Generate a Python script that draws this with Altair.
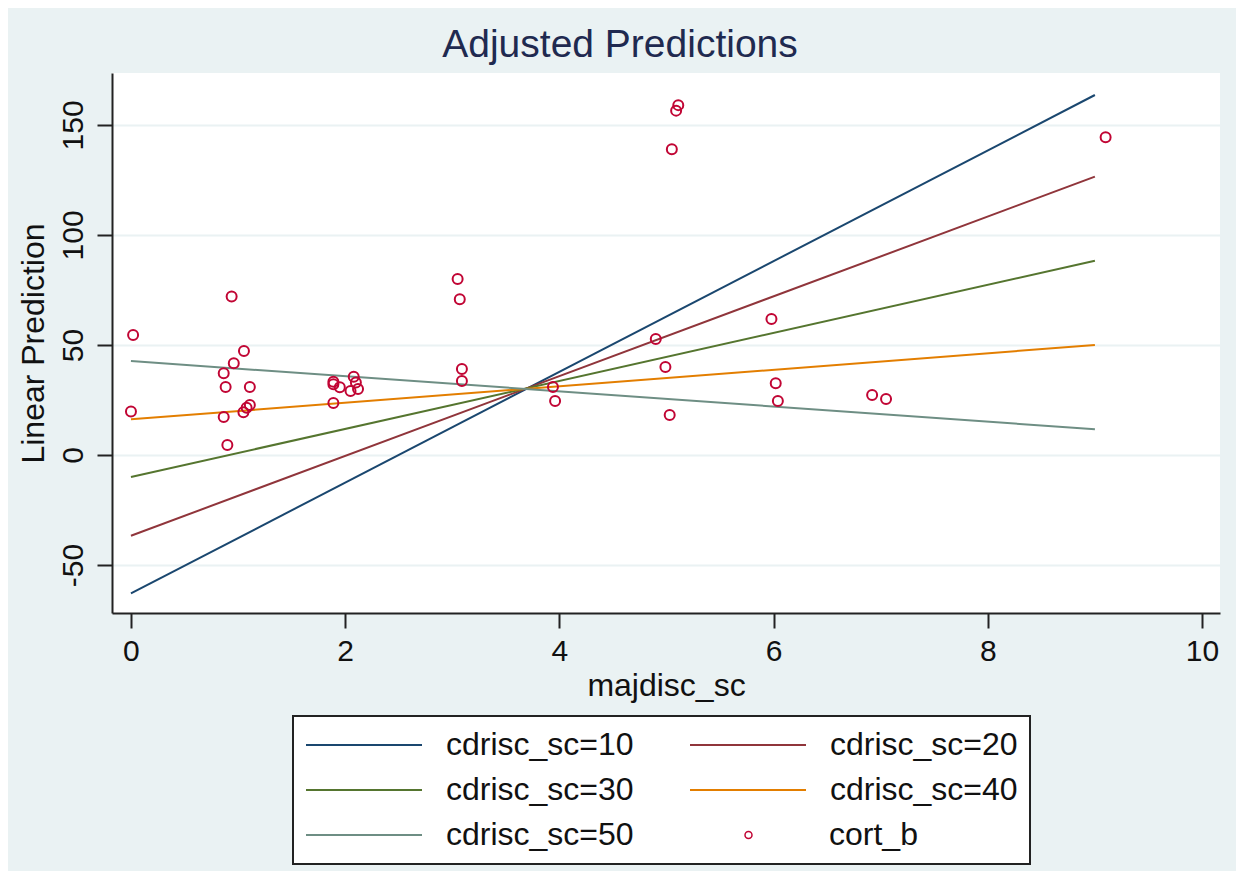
import altair as alt
import pandas as pd

# ---- data ----
cdrisc_levels = [10, 20, 30, 40, 50]
majdisc_grid = [0, 9]
pred_at_0 = [-62.9, -36.7, -10.0, 16.2, 42.7]
pred_at_9 = [163.6, 126.5, 88.3, 50.0, 11.7]
line_colors = ["#1a476f", "#90353b", "#55752f", "#e37e00", "#6e8e84"]

majdisc_obs = [0.94, 0.02, 1.055, 0.96, 0.866, 0.884, 1.11, 0.0, 0.866, 1.05,
               1.08, 1.11, 0.90, 1.89, 1.89, 1.95, 2.08, 2.10, 2.05, 2.12,
               1.89, 3.05, 3.07, 3.09, 3.09, 3.94, 3.96, 4.90, 4.99, 5.03,
               5.11, 5.09, 5.05, 5.98, 6.02, 6.04, 6.92, 7.05, 9.10]
cort_obs = [72.0, 54.5, 47.3, 41.7, 37.1, 30.9, 30.9, 19.8, 17.3, 19.4,
            21.5, 22.7, 4.5, 33.3, 32.1, 30.8, 35.6, 32.9, 29.1, 30.0,
            23.6, 80.0, 70.8, 39.1, 33.6, 30.9, 24.5, 52.7, 40.0, 18.2,
            159.0, 156.5, 139.0, 61.8, 32.6, 24.5, 27.3, 25.5, 144.4]

series_labels = [f"cdrisc_sc={v}" for v in cdrisc_levels]

rows = []
for lab, a, b in zip(series_labels, pred_at_0, pred_at_9):
    rows.append({"majdisc_sc": majdisc_grid[0], "pred": a, "series": lab})
    rows.append({"majdisc_sc": majdisc_grid[1], "pred": b, "series": lab})
lines_df = pd.DataFrame(rows)
pts_df = pd.DataFrame({"majdisc_sc": majdisc_obs, "cort_b": cort_obs,
                       "kind": ["cort_b"] * len(cort_obs)})

FONT = "Liberation Sans"
INK = "#111111"
AXC = "#222222"

x_scale = alt.Scale(domain=[-0.177, 10.168], nice=False, zero=False)
y_scale = alt.Scale(domain=[-71.8, 173.6], nice=False, zero=False)

x_axis = alt.Axis(title="majdisc_sc", values=[0, 2, 4, 6, 8, 10], grid=False,
                  tickSize=15, tickWidth=2, tickColor=AXC, domainColor=AXC,
                  domainWidth=2, labelFontSize=30, labelFont=FONT,
                  labelColor=INK, labelPadding=8, titleFontSize=32,
                  titleFont=FONT, titleFontWeight="normal", titleColor=INK,
                  titlePadding=4, labelOverlap=False)
y_axis = alt.Axis(title="Linear Prediction", values=[-50, 0, 50, 100, 150],
                  grid=True, gridColor="#eaf2f3", gridWidth=2,
                  tickSize=15, tickWidth=2, tickColor=AXC, domainColor=AXC,
                  domainWidth=2, labelFontSize=30, labelFont=FONT,
                  labelColor=INK, labelAngle=270, labelAlign="center",
                  labelBaseline="alphabetic", labelPadding=15,
                  labelExpr="toString(datum.value)",
                  titleFontSize=32, titleFont=FONT, titleFontWeight="normal",
                  titleColor=INK, titlePadding=8, labelOverlap=False)

lines = alt.Chart(lines_df).mark_line(strokeWidth=2).encode(
    x=alt.X("majdisc_sc:Q", scale=x_scale, axis=x_axis),
    y=alt.Y("pred:Q", scale=y_scale, axis=y_axis),
    color=alt.Color("series:N",
                    scale=alt.Scale(domain=series_labels, range=line_colors),
                    legend=alt.Legend(title=None, orient="none", legendX=181,
                                      legendY=643, columns=2,
                                      direction="horizontal",
                                      symbolType="stroke", symbolSize=13456,
                                      symbolStrokeWidth=2, labelFontSize=32,
                                      labelFont=FONT, labelColor=INK,
                                      labelOffset=23, columnPadding=55,
                                      rowPadding=11, padding=12,
                                      clipHeight=34, strokeColor=AXC,
                                      fillColor="white", labelLimit=400)),
)

points = alt.Chart(pts_df).mark_point(filled=False, color="#c10534", size=100,
                                      strokeWidth=2, opacity=1).encode(
    x=alt.X("majdisc_sc:Q", scale=x_scale, axis=x_axis),
    y=alt.Y("cort_b:Q", scale=y_scale, axis=y_axis),
    shape=alt.Shape("kind:N",
                    scale=alt.Scale(domain=["cort_b"], range=["circle"]),
                    legend=alt.Legend(title=None, orient="none",
                                      legendX=620.5, legendY=745,
                                      symbolSize=49, symbolStrokeWidth=1.5,
                                      labelFontSize=32, labelFont=FONT,
                                      labelColor=INK, labelOffset=64.5,
                                      padding=0, clipHeight=34,
                                      labelLimit=400)),
)

chart = alt.layer(lines, points).properties(
    width=1108, height=540,
    title=alt.TitleParams("Adjusted Predictions", fontSize=39, font=FONT,
                          fontWeight="normal", color="#1f2a50",
                          anchor="middle", dx=-46, dy=38, offset=15,
                          baseline="alphabetic"),
    autosize=alt.AutoSizeParams(type="none"),
    padding={"left": 104, "top": 65, "right": 16, "bottom": 258},
    background="#eaf2f3",
).configure_view(fill="white", strokeWidth=0).configure_legend(strokeWidth=2)

chart.save("out.html", embed_options={"renderer": "svg", "actions": False})
